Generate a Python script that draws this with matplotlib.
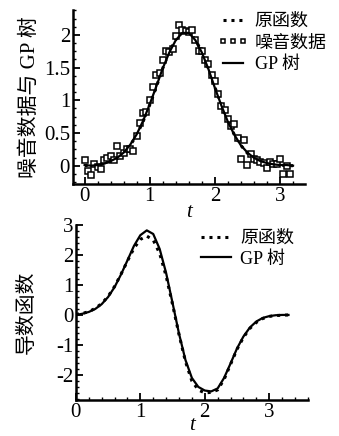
import matplotlib
matplotlib.use('Agg')
import matplotlib.pyplot as plt
from matplotlib.ticker import MultipleLocator

plt.rcParams['font.family'] = ['Liberation Serif', 'Noto Sans CJK SC']
plt.rcParams['font.size'] = 15
plt.rcParams['axes.unicode_minus'] = False

# top panel: noisy samples and fitted curves
t_noise = [0.00, 0.05, 0.10, 0.15, 0.20, 0.25, 0.30, 0.35, 0.40, 0.45,
           0.50, 0.55, 0.60, 0.65, 0.70, 0.75, 0.80, 0.85, 0.90, 0.95,
           1.00, 1.05, 1.10, 1.15, 1.20, 1.25, 1.30, 1.35, 1.40, 1.45,
           1.50, 1.55, 1.60, 1.65, 1.70, 1.75, 1.80, 1.85, 1.90, 1.95,
           2.00, 2.05, 2.10, 2.15, 2.20, 2.25, 2.30, 2.35, 2.40, 2.45,
           2.50, 2.55, 2.60, 2.65, 2.70, 2.75, 2.80, 2.85, 2.90, 2.95,
           3.00, 3.05, 3.10, 3.15]
y_noise = [0.08, -0.08, -0.15, 0.02, -0.02, -0.05, 0.08, 0.12, 0.15, 0.08,
           0.30, 0.15, 0.20, 0.25, 0.25, 0.22, 0.45, 0.66, 0.80, 0.82,
           1.00, 1.20, 1.38, 1.42, 1.62, 1.75, 1.74, 1.78, 1.98, 2.15,
           2.08, 2.06, 2.05, 2.07, 1.92, 1.76, 1.75, 1.62, 1.56, 1.38,
           1.30, 1.10, 0.92, 0.85, 0.72, 0.60, 0.64, 0.42, 0.10, 0.40,
           0.01, 0.18, 0.10, 0.08, 0.06, 0.04, -0.03, 0.05, 0.02, 0.03,
           0.10, -0.13, 0.00, -0.13]

t_curve = [0.0, 0.1, 0.2, 0.3, 0.4, 0.5, 0.6, 0.7, 0.8, 0.9, 1.0,
           1.1, 1.2, 1.3, 1.4, 1.5, 1.6, 1.7, 1.8, 1.9, 2.0, 2.1,
           2.2, 2.3, 2.4, 2.5, 2.6, 2.7, 2.8, 2.9, 3.0, 3.1, 3.2]
y_orig = [0.0, 0.01, 0.02, 0.03, 0.06, 0.11, 0.19, 0.31, 0.47, 0.68, 0.93,
          1.2, 1.49, 1.74, 1.93, 2.04, 2.04, 1.93, 1.74, 1.49, 1.2, 0.93,
          0.68, 0.47, 0.31, 0.19, 0.11, 0.06, 0.03, 0.02, 0.01, 0.0, 0.0]
y_gp = [0.01, 0.0, 0.01, 0.03, 0.07, 0.12, 0.2, 0.32, 0.48, 0.69, 0.94,
        1.21, 1.49, 1.73, 1.92, 2.03, 2.03, 1.92, 1.73, 1.48, 1.19, 0.92,
        0.67, 0.47, 0.31, 0.2, 0.12, 0.07, 0.04, 0.02, 0.01, 0.01, 0.0]

# bottom panel: derivative
t_der = [0.0, 0.1, 0.2, 0.3, 0.4, 0.5, 0.6, 0.7, 0.8, 0.9, 1.0,
         1.1, 1.2, 1.3, 1.4, 1.5, 1.6, 1.7, 1.8, 1.9, 2.0, 2.1,
         2.2, 2.3, 2.4, 2.5, 2.6, 2.7, 2.8, 2.9, 3.0, 3.1, 3.2, 3.3]
d_orig = [0.02, 0.05, 0.11, 0.22, 0.38, 0.62, 0.95, 1.36, 1.8, 2.22, 2.52,
          2.63, 2.5, 2.05, 1.3, 0.35, -0.65, -1.55, -2.2, -2.5, -2.6, -2.58,
          -2.5, -2.15, -1.65, -1.15, -0.75, -0.45, -0.25, -0.12, -0.05, -0.02,
          -0.01, 0.0]
d_gp = [0.0, 0.04, 0.1, 0.2, 0.36, 0.6, 0.93, 1.35, 1.82, 2.3, 2.66,
        2.82, 2.7, 2.2, 1.4, 0.4, -0.62, -1.5, -2.1, -2.4, -2.52, -2.55,
        -2.45, -2.1, -1.62, -1.12, -0.72, -0.42, -0.22, -0.1, -0.04, -0.01,
        0.0, 0.0]

fig = plt.figure(figsize=(3.39, 4.36), dpi=100)
ax1 = fig.add_axes([0.215, 0.578, 0.684, 0.399])
ax2 = fig.add_axes([0.224, 0.083, 0.684, 0.401])

l1, = ax1.plot(t_curve, y_orig, color='black', lw=2.2, ls=(0, (1, 1.6)),
               label='原函数')
l2, = ax1.plot(t_noise, y_noise, ls='none', marker='s', ms=4.2, mfc='white',
               mec='black', mew=1.1, label='噪音数据')
l3, = ax1.plot(t_curve, y_gp, color='black', lw=1.6, label='GP 树')
ax1.set_xlim(-0.18, 3.38)
ax1.set_ylim(-0.28, 2.38)
ax1.xaxis.set_major_locator(MultipleLocator(1))
ax1.xaxis.set_minor_locator(MultipleLocator(0.2))
ax1.yaxis.set_minor_locator(MultipleLocator(0.125))
ax1.set_yticks([0, 0.5, 1, 1.5, 2])
ax1.set_yticklabels(['0', '0.5', '1', '1.5', '2'])
ax1.set_ylabel('噪音数据与 GP 树', fontsize=15, labelpad=3)
ax1.set_xlabel('t', style='italic', labelpad=-2)
fig.legend(handles=[l1, l2, l3], loc='upper left',
           bbox_to_anchor=(0.61, 0.995), frameon=False, handlelength=1.7,
           handletextpad=0.35, labelspacing=0.25, numpoints=3, borderpad=0.1,
           fontsize=13, markerscale=0.8)

k1, = ax2.plot(t_der, d_orig, color='black', lw=2.2, ls=(0, (1, 1.6)),
               label='原函数')
k2, = ax2.plot(t_der, d_gp, color='black', lw=1.6, label='GP 树')
ax2.set_xlim(0, 3.6)
ax2.set_ylim(-2.83, 3.0)
ax2.xaxis.set_major_locator(MultipleLocator(1))
ax2.xaxis.set_minor_locator(MultipleLocator(0.2))
ax2.yaxis.set_major_locator(MultipleLocator(1))
ax2.yaxis.set_minor_locator(MultipleLocator(0.2))
ax2.set_ylabel('导数函数', fontsize=15, labelpad=14)
ax2.set_xlabel('t', style='italic', labelpad=-4)
fig.legend(handles=[k1, k2], loc='upper left',
           bbox_to_anchor=(0.56, 0.497), frameon=False, handlelength=1.7,
           handletextpad=0.5, labelspacing=0.2, borderpad=0.1, fontsize=13)

for ax in (ax1, ax2):
    ax.spines['top'].set_visible(False)
    ax.spines['right'].set_visible(False)
    ax.spines['left'].set_linewidth(1.8)
    ax.spines['bottom'].set_linewidth(1.8)
    ax.tick_params(which='major', direction='in', length=5, width=1.3, pad=2)
    ax.tick_params(which='minor', direction='in', length=2.5, width=1.0)

fig.savefig('out.png', dpi=100)
